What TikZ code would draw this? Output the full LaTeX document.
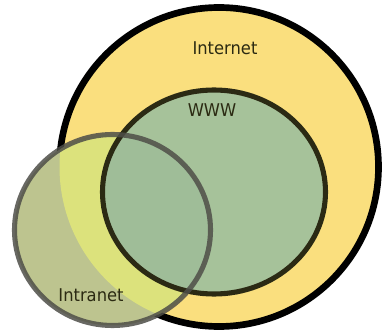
\documentclass[tikz,border=0pt]{standalone}
\usepackage{fontspec}
\setmainfont{DejaVu Sans}
\begin{document}
\begin{tikzpicture}[x=0.02cm,y=-0.02cm]
\tikzset{
  netfill/.style={fill=yellowA,draw=black},
  label/.style={text=labelC,font=\fontsize{10}{11}\selectfont,inner sep=0pt,xscale=0.93}
}
\definecolor{yellowA}{HTML}{FADF7E}
\definecolor{greenA}{HTML}{A6C29A}
\definecolor{intraA}{HTML}{BDC48F}
\definecolor{intraB}{HTML}{DCE27C}
\definecolor{intraC}{HTML}{9FBD98}
\definecolor{wwwLine}{HTML}{2B2A14}
\definecolor{intraLine}{HTML}{4E4E48}
\definecolor{labelC}{HTML}{2B2A12}
\useasboundingbox (0,0) rectangle (386,331);

\coordinate (inetC) at (219,167);
\coordinate (wwwC) at (214,192);
\coordinate (intraC) at (112.5,230);

% Internet
\draw[netfill,line width=3.8pt] (inetC) circle [radius=159.5];
% WWW
\fill[greenA] (wwwC) ellipse [x radius=111.5, y radius=102];

% Intranet, area by area
\fill[intraA] (intraC) ellipse [x radius=98, y radius=95.5];
\begin{scope}
\clip (intraC) ellipse [x radius=98, y radius=95.5];
\fill[intraB] (inetC) circle [radius=159.5];
\fill[intraC] (wwwC) ellipse [x radius=111.5, y radius=102];
\end{scope}

\draw[wwwLine,line width=2.9pt] (wwwC) ellipse [x radius=111.5, y radius=102];
\draw[intraLine,line width=2.9pt,draw opacity=0.85] (intraC) ellipse [x radius=98, y radius=95.5];

\node[label] (inet) at (225,48) {Internet};
\node[label] (www) at (212,110) {WWW};
\node[label] (intra) at (91,295) {Intranet};
\end{tikzpicture}
\end{document}
